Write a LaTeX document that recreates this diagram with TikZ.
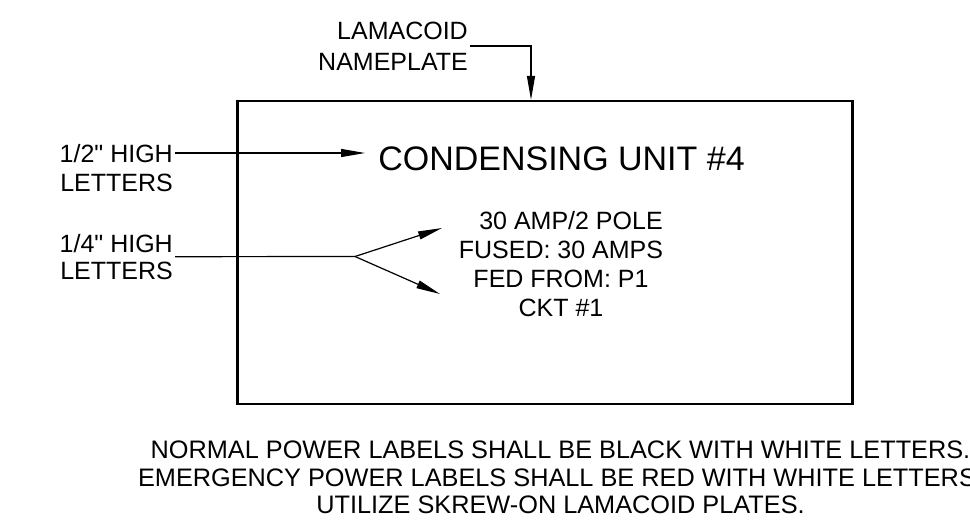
\documentclass[tikz,border=0pt]{standalone}
\usepackage{fontspec}
\setmainfont{Liberation Sans}[Ligatures=TeXOff]
\usetikzlibrary{positioning}
\usetikzlibrary{calc}
\usetikzlibrary{arrows.meta}

\begin{document}
\begin{tikzpicture}
	[x=1pt,y=-1pt,
	note/.style={inner sep=0pt,font=\fontsize{25}{29}\selectfont,text height=18pt,text depth=0pt},
	block/.style={inner sep=0pt,align=center,font=\fontsize{25}{29}\selectfont},
	title/.style={inner sep=0pt,font=\fontsize{34}{40}\selectfont},
	plate/.style={rectangle,draw,line width=2.2pt,minimum width=615pt,minimum height=303pt,inner sep=0pt},
	leader/.style={line width=1.2pt,-{Triangle[length=24pt,width=8pt]}},
	wire/.style={line width=1.2pt}]
	\useasboundingbox (0,0) rectangle (970,522);
	\node[plate] (plate) at (545,252.5) {};
	\node[note]  (lama) at (468,39.5) [anchor=base east] {LAMACOID};
	\node[note]  (lamaB) [below left=12.5pt and 0pt of lama.south east] {NAMEPLATE};
	\node[note]  (half) at (173,162) [anchor=base east] {1/2" HIGH};
	\node[note]  (halfB) [below left=11pt and 0pt of half.south east] {LETTERS};
	\node[note]  (quarter) at (173,252) [anchor=base east] {1/4" HIGH};
	\node[note]  (quarterB) [below left=9pt and 0pt of quarter.south east] {LETTERS};
	\node[title] (unit) at (561.5,170) [anchor=base] {CONDENSING UNIT \#4};
	\node[block] (details) at (561,264) {\hspace*{0.8em}30 AMP/2 POLE\\FUSED: 30 AMPS\\FED FROM: P1\\CKT \#1};
	\node[block,font=\fontsize{25.3}{27.5}\selectfont] (rules) at (560.5,477.5) {NORMAL POWER LABELS SHALL BE BLACK WITH WHITE LETTERS.\\EMERGENCY POWER LABELS SHALL BE RED WITH WHITE LETTERS.\\UTILIZE SKREW-ON LAMACOID PLATES.};
	\coordinate (quarterlead) at ($(quarter.south east)!.5!(quarterB.north east)+(2,0)$);
	\coordinate (fork) at (355,256.5);
	\coordinate (tipB) at (442,228);
	\coordinate (tipC) at (440,294);
	\draw[leader] ($(lama.south east)!.5!(lamaB.north east)+(2,0)$) -| ([xshift=-14pt]plate.north);
	\draw[leader] ([xshift=2pt]half.east) -- ([xshift=-13pt]half.east -| unit.west);
	\draw[wire] (quarterlead) -- (fork);
	\draw[leader] (fork) -- (tipB);
	\draw[leader] (fork) -- (tipC);
\end{tikzpicture}
\end{document}
